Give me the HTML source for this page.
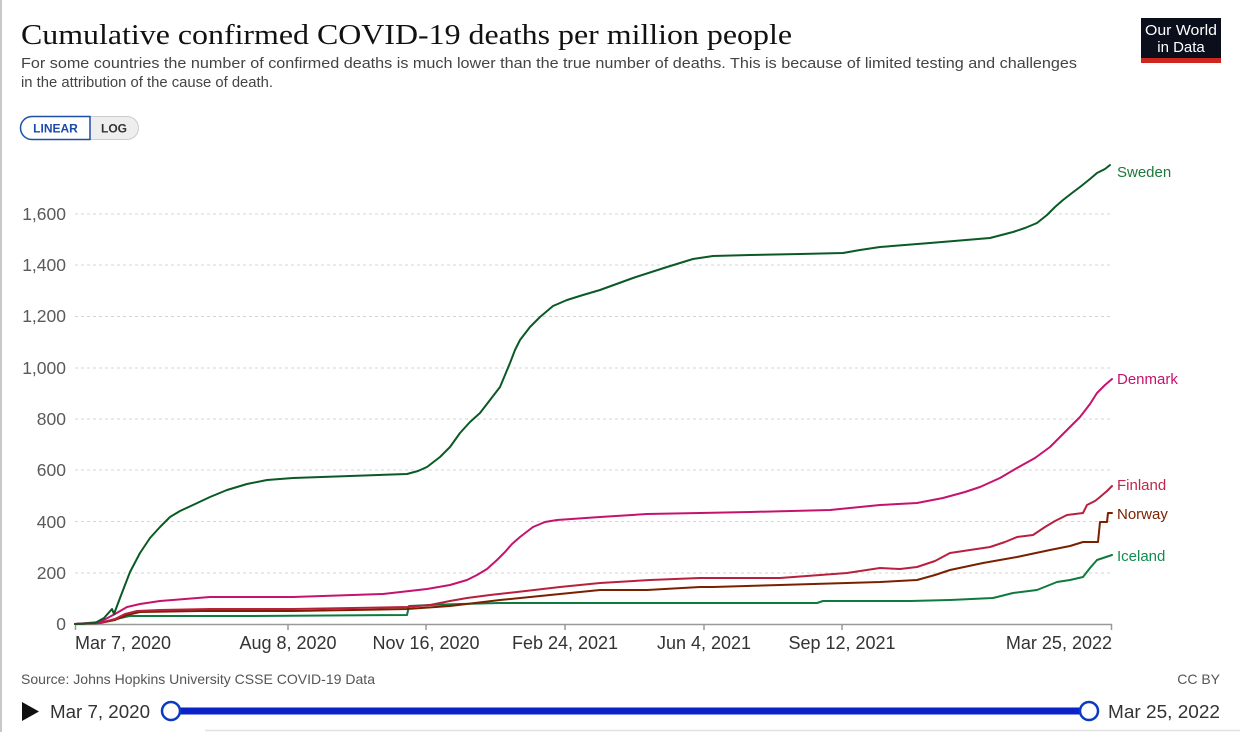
<!DOCTYPE html>
<html><head><meta charset="utf-8"><style>
html,body{margin:0;padding:0;background:#fff;}
svg{display:block;}
text{font-family:"Liberation Sans",sans-serif;}
</style></head><body>
<svg width="1240" height="732" viewBox="0 0 1240 732" xmlns="http://www.w3.org/2000/svg">
<rect x="0" y="0" width="1240" height="732" fill="#fff"/>
<line x1="1" y1="0" x2="1" y2="732" stroke="#c8c8c8" stroke-width="2"/>
<line x1="205" y1="730.5" x2="1240" y2="730.5" stroke="#e2e2e2" stroke-width="1.5"/>

<text x="21" y="44" font-family="Liberation Serif, serif" font-size="29" fill="#111" textLength="771" lengthAdjust="spacingAndGlyphs" style="font-family:'Liberation Serif',serif">Cumulative confirmed COVID-19 deaths per million people</text>
<text x="21" y="68" font-size="14.5" fill="#444" textLength="1056" lengthAdjust="spacingAndGlyphs">For some countries the number of confirmed deaths is much lower than the true number of deaths. This is because of limited testing and challenges</text>
<text x="21" y="87" font-size="14.5" fill="#444" textLength="252" lengthAdjust="spacingAndGlyphs">in the attribution of the cause of death.</text>

<!-- logo -->
<rect x="1141" y="18" width="80" height="41" fill="#0b0f1c"/>
<rect x="1141" y="58" width="80" height="5" fill="#ce261e"/>
<text x="1181" y="35" font-size="15" fill="#fff" text-anchor="middle" textLength="72" lengthAdjust="spacingAndGlyphs">Our World</text>
<text x="1181" y="52" font-size="15" fill="#fff" text-anchor="middle">in Data</text>

<!-- toggle -->
<rect x="20.5" y="116.5" width="118" height="23" rx="11.5" fill="#eee" stroke="#ccc"/>
<path d="M32,116.5 H90 V139.5 H32 A11.5,11.5 0 0 1 32,116.5 Z" fill="#fff" stroke="#1d4fa8" stroke-width="1.5"/>
<text x="55.5" y="132.5" font-size="12" font-weight="bold" fill="#1b4aa8" text-anchor="middle">LINEAR</text>
<text x="114" y="132.5" font-size="12" font-weight="bold" fill="#333" text-anchor="middle">LOG</text>

<!-- gridlines -->
<g stroke="#d4d4d4" stroke-width="1" stroke-dasharray="3,3">
<line x1="75" y1="573" x2="1112" y2="573"/>
<line x1="75" y1="521.5" x2="1112" y2="521.5"/>
<line x1="75" y1="470" x2="1112" y2="470"/>
<line x1="75" y1="419" x2="1112" y2="419"/>
<line x1="75" y1="368" x2="1112" y2="368"/>
<line x1="75" y1="316.5" x2="1112" y2="316.5"/>
<line x1="75" y1="265" x2="1112" y2="265"/>
<line x1="75" y1="214" x2="1112" y2="214"/>
</g>
<g font-size="17.5" fill="#5a5a5a" text-anchor="end">
<text x="66" y="630">0</text>
<text x="66" y="579">200</text>
<text x="66" y="528">400</text>
<text x="66" y="476">600</text>
<text x="66" y="425">800</text>
<text x="66" y="374">1,000</text>
<text x="66" y="322">1,200</text>
<text x="66" y="271">1,400</text>
<text x="66" y="220">1,600</text>
</g>

<!-- x axis -->
<line x1="75" y1="624.5" x2="1112" y2="624.5" stroke="#999" stroke-width="1.5"/>
<g stroke="#999" stroke-width="1.5">
<line x1="75.5" y1="624" x2="75.5" y2="630"/>
<line x1="288" y1="624" x2="288" y2="630"/>
<line x1="426" y1="624" x2="426" y2="630"/>
<line x1="565" y1="624" x2="565" y2="630"/>
<line x1="704" y1="624" x2="704" y2="630"/>
<line x1="842" y1="624" x2="842" y2="630"/>
<line x1="1111.5" y1="624" x2="1111.5" y2="630"/>
</g>
<g font-size="18" fill="#333">
<text x="75" y="649">Mar 7, 2020</text>
<text x="288" y="649" text-anchor="middle">Aug 8, 2020</text>
<text x="426" y="649" text-anchor="middle">Nov 16, 2020</text>
<text x="565" y="649" text-anchor="middle">Feb 24, 2021</text>
<text x="704" y="649" text-anchor="middle">Jun 4, 2021</text>
<text x="842" y="649" text-anchor="middle">Sep 12, 2021</text>
<text x="1112" y="649" text-anchor="end">Mar 25, 2022</text>
</g>

<!-- series -->
<g fill="none" stroke-width="2" stroke-linejoin="round" stroke-linecap="round">
<polyline stroke="#0e7a40" points="75,624 100,623 112,620 125,617 130,616 250,616 407,615 409,606 430,605 460,604 500,603 560,603 690,603 817,603 823,601 880,601 910,601 950,600 993,598 1013,593 1037,590 1057,582 1070,580 1083,577 1090,568 1097,560 1103,558 1112,555"/>
<polyline stroke="#7a2000" points="75,624 100,623 115,620 127,615 140,612 200,611 293,611 407,609 450,606 500,600 550,595 600,590 647,590 700,587 713,587 780,585 847,583 880,582 917,580 935,575 950,570 983,563 1017,557 1050,550 1070,546 1083,542 1098,542 1100,522 1107,522 1108,513 1112,513"/>
<polyline stroke="#b8203f" points="75,624 100,623 115,619 125,614 137,611 160,610 210,609 293,609 407,607 430,605 450,601 467,598 490,595 517,592 560,587 600,583 650,580 700,578 780,578 847,573 880,568 900,569 917,567 935,561 950,553 970,550 990,547 1005,542 1017,537 1033,535 1045,527 1055,521 1067,515 1083,513 1087,505 1095,501 1100,497 1107,491 1112,486"/>
<polyline stroke="#c4136e" points="75,624 100,622 115,614 127,607 140,604 160,601 185,599 210,597 293,597 383,594 427,589 450,585 467,580 477,575 487,569 497,560 505,552 512,544 520,537 533,527 545,522 557,520 600,517 647,514 700,513 750,512 830,510 880,505 917,503 943,498 965,492 980,487 1000,478 1017,468 1035,458 1050,447 1065,432 1080,417 1090,404 1097,393 1105,385 1112,379"/>
<polyline stroke="#0a5a25" points="75,624 95,623 104,618 112,609 114,614 120,598 130,572 140,553 150,538 160,527 170,517 180,511 193,505 210,497 227,490 247,484 267,480 293,478 350,476 407,474 418,471 427,467 440,457 450,447 460,433 470,422 480,413 490,400 500,387 505,375 510,363 515,350 520,340 530,327 540,317 553,306 567,300 583,295 600,290 633,278 667,267 693,259 713,256 750,255 800,254 843,253 860,250 880,247 930,243 990,238 1013,232 1025,228 1037,223 1047,215 1055,207 1063,200 1072,193 1080,187 1090,179 1097,173 1105,169 1110,165"/>
</g>

<!-- labels -->
<g font-size="15">
<text x="1117" y="177" fill="#1a7a3a">Sweden</text>
<text x="1117" y="384" fill="#c4136e">Denmark</text>
<text x="1117" y="490" fill="#c0264a">Finland</text>
<text x="1117" y="519" fill="#7a2200">Norway</text>
<text x="1117" y="561" fill="#138a50">Iceland</text>
</g>

<!-- footer -->
<text x="21" y="684" font-size="14" fill="#555" textLength="354" lengthAdjust="spacingAndGlyphs">Source: Johns Hopkins University CSSE COVID-19 Data</text>
<text x="1220" y="684" font-size="14" fill="#555" text-anchor="end">CC BY</text>

<!-- slider -->
<polygon points="22,702 22,721 39,711.5" fill="#111"/>
<text x="50" y="718" font-size="18" fill="#333" textLength="100" lengthAdjust="spacingAndGlyphs">Mar 7, 2020</text>
<line x1="171" y1="711" x2="1089" y2="711" stroke="#0a23c8" stroke-width="7"/>
<circle cx="171" cy="711" r="9" fill="#fff" stroke="#0a3ac0" stroke-width="2.5"/>
<circle cx="1089" cy="711" r="9" fill="#fff" stroke="#0a3ac0" stroke-width="2.5"/>
<text x="1108" y="718" font-size="18" fill="#333" textLength="112" lengthAdjust="spacingAndGlyphs">Mar 25, 2022</text>
</svg>
</body></html>
